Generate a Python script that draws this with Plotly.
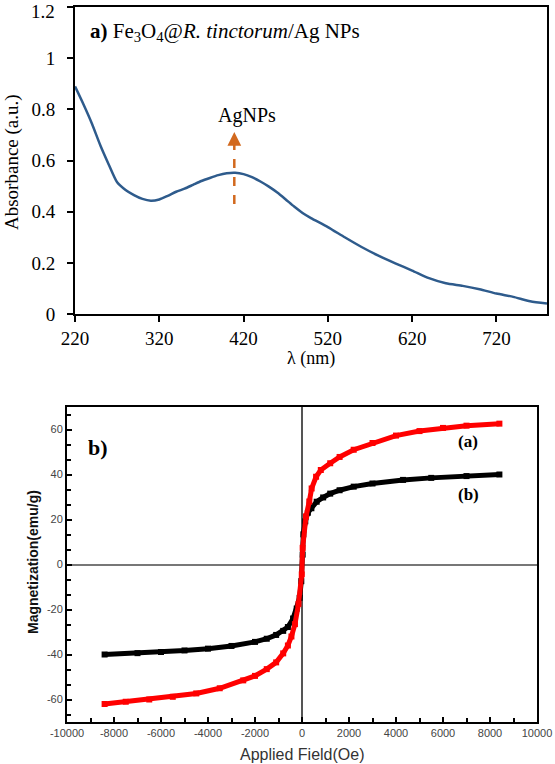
import plotly.graph_objects as go

# ---------- panel a: UV-Vis ----------
wavelength = [220, 230, 240, 250, 260, 270, 280, 290, 300, 310, 320, 330, 340, 350, 360, 370,
              380, 390, 400, 410, 420, 430, 440, 450, 460, 470, 480, 490, 500, 520, 540, 560,
              580, 600, 620, 640, 660, 680, 700, 720, 740, 760, 780]
absorbance = [0.89, 0.82, 0.745, 0.66, 0.585, 0.515, 0.485, 0.465, 0.45, 0.443, 0.448, 0.462,
              0.478, 0.49, 0.505, 0.52, 0.532, 0.543, 0.55, 0.552, 0.547, 0.535, 0.518, 0.498,
              0.475, 0.448, 0.42, 0.395, 0.375, 0.34, 0.30, 0.262, 0.228, 0.198, 0.17, 0.14,
              0.12, 0.11, 0.097, 0.08, 0.067, 0.05, 0.041]
x_ticks_a = [220, 320, 420, 520, 620, 720]
y_ticks_a = [0, 0.2, 0.4, 0.6, 0.8, 1, 1.2]
y_labels_a = ["0", "0.2", "0.4", "0.6", "0.8", "1", "1.2"]

# ---------- panel b: VSM ----------
field_a = [-8400, -7500, -6500, -5500, -4500, -3500, -2500, -2000, -1500, -1100, -800, -600,
           -450, -300, -150, -10, 28, 170, 310, 410, 600, 800, 1200, 1600, 2200, 3000, 4000,
           5000, 6000, 7000, 8400]
mag_a = [-62.0, -61.0, -60.0, -58.8, -57.3, -55.0, -51.5, -49.5, -46.5, -43.5, -39.5, -36.0,
         -32.0, -26.5, -17.5, -4.4, 7.4, 21.4, 28.0, 33.8, 39.0, 42.0, 45.0, 47.8, 51.0, 54.0,
         57.3, 59.3, 60.7, 61.7, 62.6]
field_b = [-8400, -7000, -6000, -5000, -4000, -3000, -2000, -1500, -1100, -800, -600, -380,
           -225, -100, -30, 28, 57, 140, 250, 400, 625, 900, 1200, 1600, 2200, 3000, 4300,
           5500, 7000, 8400]
mag_b = [-40.0, -39.4, -38.9, -38.2, -37.4, -36.2, -34.4, -33.0, -31.3, -29.5, -27.8, -24.0,
         -19.6, -14.8, -7.4, 4.4, 13.4, 19.2, 23.0, 25.0, 27.9, 29.8, 31.5, 33.0, 34.6, 36.0,
         37.6, 38.5, 39.3, 40.0]
x_ticks_b = [-10000, -8000, -6000, -4000, -2000, 0, 2000, 4000, 6000, 8000, 10000]
x_labels_b = ["-10000", "-8000", "-6000", "-4000", "-2000", "0", "2000", "4000", "6000",
              "8000", "10000"]
y_ticks_b = [-60, -40, -20, 0, 20, 40, 60]
y_labels_b = ["-60", "-40", "-20", "0", "20", "40", "60"]

W, H = 555, 764
def px(x):
    return x / W
def py(y):
    return 1 - y / H

fig = go.Figure()
fig.add_trace(go.Scatter(x=wavelength, y=absorbance, mode="lines",
                         line=dict(color="#2E5B8C", width=2.5, shape="spline", smoothing=0.6),
                         xaxis="x", yaxis="y", showlegend=False))
fig.add_trace(go.Scatter(x=field_b, y=mag_b, mode="lines+markers",
                         line=dict(color="#000000", width=5),
                         marker=dict(symbol="square", size=6, color="#000000"),
                         xaxis="x2", yaxis="y2", showlegend=False))
fig.add_trace(go.Scatter(x=field_a, y=mag_a, mode="lines+markers",
                         line=dict(color="#FF0000", width=5),
                         marker=dict(symbol="square", size=6, color="#FF0000"),
                         xaxis="x2", yaxis="y2", showlegend=False))

serif = "Liberation Serif, Times New Roman, serif"
sans = "Liberation Sans, Arial, sans-serif"

tick_b = dict(ticks="inside", ticklen=5, tickwidth=2, tickcolor="black")
minor_x = dict(dtick=1000, ticks="inside", ticklen=4, tickwidth=2, tickcolor="black")
minor_y = dict(tick0=0, dtick=20 / 3, ticks="inside", ticklen=4, tickwidth=2, tickcolor="black")

fig.update_layout(
    width=W, height=H, margin=dict(l=0, r=0, t=0, b=0),
    paper_bgcolor="white", plot_bgcolor="white",
    xaxis=dict(domain=[px(75), px(547)], range=[220, 780], tickvals=x_ticks_a,
               showline=True, linecolor="black", linewidth=2, mirror=True,
               ticks="outside", ticklen=6, tickwidth=2, tickcolor="black",
               showgrid=False, zeroline=False, automargin=False, ticklabeloverflow="allow",
               tickfont=dict(family=serif, size=19, color="black"), anchor="y"),
    yaxis=dict(domain=[py(314), py(7)], range=[0, 1.2005], tickvals=y_ticks_a,
               ticktext=y_labels_a[:-1] + [""],
               showline=True, linecolor="black", linewidth=2, mirror=True,
               ticks="outside", ticklen=6, tickwidth=2, tickcolor="black",
               showgrid=False, zeroline=False, automargin=False, ticklabelstandoff=8,
               ticklabeloverflow="allow",
               tickfont=dict(family=serif, size=19, color="black"), anchor="x"),
    xaxis2=dict(domain=[px(67), px(537)], range=[-10000, 10000], tickvals=x_ticks_b,
                ticktext=x_labels_b,
                showline=True, linecolor="black", linewidth=2, mirror=True,
                minor=minor_x, **tick_b,
                showgrid=False, zeroline=True, zerolinecolor="#555555", zerolinewidth=1.5,
                automargin=False, ticklabeloverflow="allow",
                tickfont=dict(family=sans, size=11, color="#444444"), anchor="y2"),
    yaxis2=dict(domain=[py(722), py(407)], range=[-70, 70], tickvals=y_ticks_b,
                ticktext=y_labels_b,
                showline=True, linecolor="black", linewidth=2, mirror=True,
                minor=minor_y, **tick_b,
                showgrid=False, zeroline=True, zerolinecolor="#777777", zerolinewidth=2,
                automargin=False, ticklabeloverflow="allow",
                tickfont=dict(family=sans, size=11, color="#444444"), anchor="x2"),
    xaxis3=dict(overlaying="x2", side="top", anchor="y2", range=[-10000, 10000],
                tickvals=x_ticks_b, showticklabels=False, minor=minor_x, **tick_b,
                showgrid=False, zeroline=False, showline=False, automargin=False),
    yaxis3=dict(overlaying="y2", side="right", anchor="x2", range=[-70, 70],
                tickvals=y_ticks_b, showticklabels=False, minor=minor_y, **tick_b,
                showgrid=False, zeroline=False, showline=False, automargin=False),
)

def note(x, y, text, size, family, color="black", angle=0, xanchor="center"):
    return dict(x=px(x), y=py(y), xref="paper", yref="paper", text=text, textangle=angle,
                xanchor=xanchor, yanchor="middle", showarrow=False,
                font=dict(family=family, size=size, color=color))

annotations = [
    note(12, 162, "Absorbance (a.u.)", 19, serif, angle=-90),
    note(311, 358, "λ (nm)", 18, serif),
    note(43, 11, y_labels_a[-1], 19, serif),
    note(88, 32, "<b>a)</b> Fe<sub>3</sub>O<sub>4</sub>@<i>R. tinctorum</i>/Ag NPs",
         21, serif, xanchor="left"),
    dict(x=424, y=0.777, xref="x", yref="y", text="AgNPs", showarrow=False,
         xanchor="center", yanchor="middle",
         font=dict(family=serif, size=20, color="black")),
    dict(x=409, y=0.712, ax=409, ay=0.66, xref="x", yref="y", axref="x", ayref="y",
         text="", showarrow=True, arrowhead=2, arrowsize=1.1, arrowwidth=2.5,
         arrowcolor="#D2691E"),
    note(33, 562, "<b>Magnetization(emu/g)</b>", 14, sans, color="#111111", angle=-90),
    note(302, 754, "Applied Field(Oe)", 16, sans, color="#333333"),
    note(98, 448, "<b>b)</b>", 22, serif),
    note(468, 441, "<b>(a)</b>", 17, serif),
    note(468, 494, "<b>(b)</b>", 17, serif),
]
fig.update_layout(annotations=annotations)

fig.add_shape(type="line", xref="x", yref="y", x0=409, x1=409, y0=0.43, y1=0.67,
              line=dict(color="#D2691E", width=2.5, dash="dash"))

fig.write_html("out.html", config={"displayModeBar": False},
               post_script="document.body.style.margin='0px';")
